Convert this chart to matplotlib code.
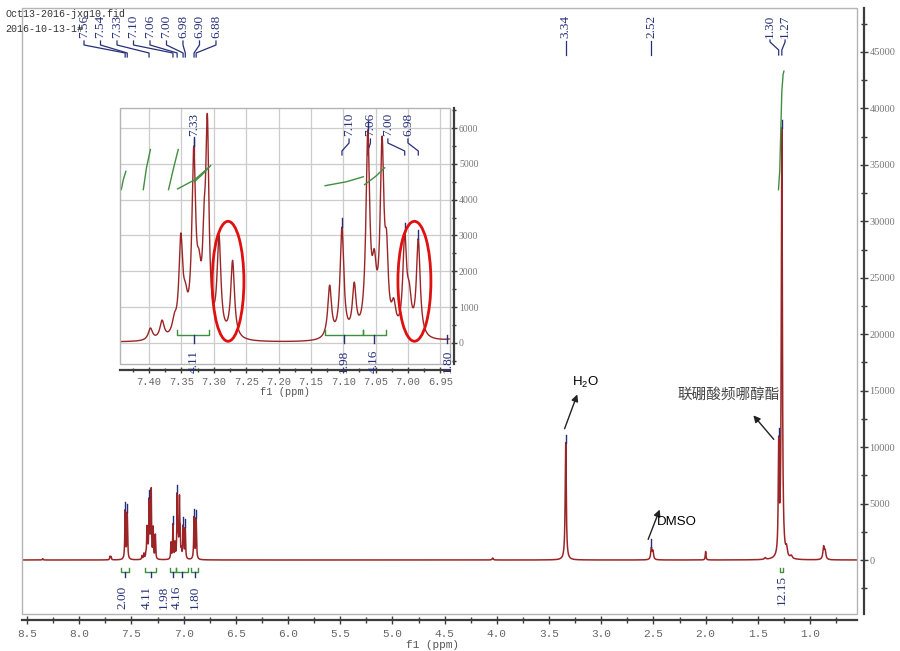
import numpy as np
import matplotlib
matplotlib.use('Agg')
import matplotlib.pyplot as plt
import matplotlib.transforms as mtransforms
from matplotlib.patches import Rectangle, Ellipse
from matplotlib.ticker import MultipleLocator, FormatStrFormatter

# --- peaks (ppm, height, half width at half max) ---
peak_ppm = [8.350, 7.705, 7.695, 7.560, 7.540,
            7.398, 7.380, 7.361, 7.351, 7.344, 7.331, 7.323, 7.315, 7.310,
            7.292, 7.271,
            7.121, 7.102, 7.083, 7.062, 7.052, 7.040, 7.033, 7.022,
            7.005, 6.998, 6.984, 6.900, 6.880,
            4.040, 3.340, 2.520, 2.505, 2.000, 1.430,
            1.300, 1.270, 1.225, 1.180, 0.870, 0.855]
peak_height = [120, 300, 260, 4300, 4100,
               330, 500, 370, 2600, 700, 4900, 1200, 1900, 5500,
               2700, 2150,
               1450, 3050, 1350, 5500, 1500, 5100, 1800, 700,
               2650, 900, 2700, 3700, 3600,
               180, 10400, 1000, 700, 750, 150,
               9500, 38000, 700, 250, 1100, 700]
peak_hwhm = [0.004, 0.004, 0.004, 0.004, 0.004,
             0.004, 0.004, 0.004, 0.0035, 0.004, 0.0035, 0.004, 0.003, 0.003,
             0.0035, 0.0035,
             0.0035, 0.0035, 0.0035, 0.0035, 0.004, 0.0035, 0.003, 0.004,
             0.0035, 0.004, 0.0035, 0.004, 0.004,
             0.006, 0.006, 0.007, 0.007, 0.004, 0.008,
             0.005, 0.006, 0.008, 0.01, 0.008, 0.008]

# --- peak labels at the top of the main plot ---
top_labels = ['7.56', '7.54', '7.33', '7.10', '7.06', '7.00', '6.98', '6.90', '6.88']
top_label_peaks = [7.56, 7.54, 7.331, 7.102, 7.062, 7.005, 6.984, 6.90, 6.88]
solvent_labels = ['3.34', '2.52']
solvent_peaks = [3.34, 2.52]
pair_labels = ['1.30', '1.27']
pair_peaks = [1.30, 1.27]

# --- integrals in the main plot ---
int_regions = [(7.60, 7.52), (7.37, 7.26), (7.13, 7.075), (7.07, 6.96), (6.93, 6.86)]
int_values = ['2.00', '4.11', '1.98', '4.16', '1.80']
int_label_ppm = [7.59, 7.35, 7.19, 7.07, 6.89]
big_int_value = '12.15'
big_int_ppm = 1.27
big_int_curve_ppm = [1.302, 1.290, 1.280, 1.270, 1.258, 1.250]
big_int_curve_val = [32800, 34500, 38000, 41500, 43000, 43300]

# --- inset labels / integrals ---
inset_labels = ['7.33', '7.10', '7.06', '7.00', '6.98']
inset_label_peaks = [7.331, 7.102, 7.062, 7.005, 6.984]
inset_label_pos = [7.331, 7.091, 7.058, 7.031, 7.000]
inset_int_values = ['4.11', '1.98', '4.16', '1.80']
inset_int_ppm = [7.331, 7.099, 7.053, 6.939]
inset_int_bars = [(7.357, 7.307), (7.128, 7.070), (7.070, 7.034)]
inset_int_curves = [([7.443, 7.440, 7.436], [4280, 4550, 4790]),
                    ([7.409, 7.404, 7.398], [4280, 4900, 5400]),
                    ([7.370, 7.362, 7.355], [4280, 4900, 5400]),
                    ([7.356, 7.330, 7.308], [4300, 4550, 4900]),
                    ([7.330, 7.318, 7.305], [4500, 4700, 4950]),
                    ([7.128, 7.095, 7.069], [4390, 4500, 4640]),
                    ([7.067, 7.050, 7.036], [4420, 4650, 4890])]

RED = '#9b2526'
BLUE = '#26307a'
GREEN = '#3f8f3f'
FRAME = '#b4b4b4'
AXIS = '#3c3c3c'


def spectrum(x):
    y = np.zeros_like(x)
    for p, h, w in zip(peak_ppm, peak_height, peak_hwhm):
        y += h / (1 + ((x - p) / w) ** 2)
    return y


def connectors(ax, texts, peaks, positions, y_top, y0, y1, y2, y3, size):
    # rotated label + bracket line down to the peak (x in ppm, y in axes fraction)
    tr = mtransforms.blended_transform_factory(ax.transData, ax.transAxes)
    for t, p, lx in zip(texts, peaks, positions):
        ax.text(lx, y_top, t, rotation=90, ha='center', va='top', color=BLUE,
                fontsize=size, family='Liberation Serif', transform=tr, clip_on=False)
        ax.plot([lx, lx, p, p], [y0, y1, y2, y3], color=BLUE, lw=0.9,
                transform=tr, clip_on=False)


def frame(ax):
    ax.add_patch(Rectangle((0, 0), 1, 1, transform=ax.transAxes, fill=False,
                           ec=FRAME, lw=1.0, clip_on=False, zorder=5))
    for s in ['top', 'left']:
        ax.spines[s].set_visible(False)
    for s in ['right', 'bottom']:
        ax.spines[s].set_color(AXIS)
        ax.spines[s].set_linewidth(1.6)


fig = plt.figure(figsize=(9, 6.51), dpi=100)

# ================= main spectrum =================
ax = fig.add_axes([22 / 900, 1 - 614 / 651, 835 / 900, 606 / 651])
x = np.linspace(8.6, 0.5, 60000)
y = spectrum(x)
ax.plot(x, y, color=RED, lw=1.1)
ax.set_xlim(8.548, 0.55)
ax.set_ylim(-4783, 48894)
frame(ax)
ax.spines['right'].set_position(('outward', 5))
ax.spines['bottom'].set_position(('outward', 4))
ax.yaxis.tick_right()
ax.xaxis.set_minor_locator(MultipleLocator(0.25))
ax.xaxis.set_major_formatter(FormatStrFormatter('%.1f'))
ax.yaxis.set_minor_locator(MultipleLocator(2500))
ax.set_xticks([v for v in np.arange(8.5, 0.9, -0.5)])
ax.set_yticks(np.arange(0, 45001, 5000))
ax.tick_params(axis='both', which='major', direction='inout', length=6, width=1, color=AXIS)
ax.tick_params(axis='both', which='minor', direction='inout', length=4, width=1, color=AXIS)
ax.tick_params(axis='x', labelsize=8, labelcolor='#666666', pad=4)
ax.tick_params(axis='y', labelsize=7.5, labelcolor='#777777', pad=1)
for lb in ax.get_xticklabels():
    lb.set_family('Liberation Mono')
for lb in ax.get_yticklabels():
    lb.set_family('Liberation Serif')
fig.text(433 / 900, 1 - 645 / 651, 'f1 (ppm)', ha='center', va='center',
         fontsize=8, color='#555555', family='Liberation Mono')

fig.text(5 / 900, 1 - 14 / 651, 'Oct13-2016-jxq10.fid', ha='left', va='center',
         fontsize=7.2, color='#333333', family='Liberation Mono')
fig.text(5 / 900, 1 - 29 / 651, '2016-10-13-1#', ha='left', va='center',
         fontsize=7.2, color='#333333', family='Liberation Mono')

# peak markers
for p in top_label_peaks + solvent_peaks + pair_peaks:
    h = spectrum(np.array([p]))[0]
    ax.plot([p, p], [h, h + 700], color=BLUE, lw=1.0)


# top labels (axes fraction: (614 - pixel) / 606)
def fy(pix):
    return (614 - pix) / 606


label_pos = list(np.linspace(7.954, 6.690, len(top_labels)))
connectors(ax, top_labels, top_label_peaks, label_pos, fy(15), fy(41), fy(45), fy(53), fy(57), 9.5)
connectors(ax, solvent_labels, solvent_peaks, solvent_peaks, fy(15), fy(41), fy(45), fy(50), fy(55), 9.5)
connectors(ax, pair_labels, pair_peaks, [1.383, 1.239], fy(15), fy(40), fy(42), fy(50), fy(55), 9.5)

# integrals
for (a, b), v, lx in zip(int_regions, int_values, int_label_ppm):
    ax.plot([a, a, b, b], [-700, -1100, -1100, -700], color=GREEN, lw=1.0)
    m = (a + b) / 2
    ax.plot([m, m], [-1100, -1500], color=BLUE, lw=1.0)
    ax.text(lx, -2300, v, rotation=90, ha='center', va='top', color=BLUE,
            fontsize=9.5, family='Liberation Serif')
ax.plot([1.285, 1.285, 1.255, 1.255], [-700, -1100, -1100, -700], color=GREEN, lw=1.0)
ax.text(big_int_ppm, -1300, big_int_value, rotation=90, ha='center', va='top',
        color=BLUE, fontsize=9.5, family='Liberation Serif')
ax.plot(big_int_curve_ppm, big_int_curve_val, color=GREEN, lw=1.0)

# annotations
arrow = dict(arrowstyle='-|>', color='#222222', lw=1.0, mutation_scale=10)
ax.annotate('', xy=(3.22, 14900), xytext=(3.36, 11400), arrowprops=arrow)
ax.text(3.155, 15700, r'H$_\mathregular{2}$O', ha='center', va='center',
        fontsize=9.5, family='Liberation Sans')
ax.annotate('', xy=(2.43, 4700), xytext=(2.56, 1600), arrowprops=arrow)
ax.text(2.465, 3400, 'DMSO', ha='left', va='center', fontsize=9.5, family='Liberation Sans')
ax.annotate('', xy=(1.56, 13000), xytext=(1.33, 10500), arrowprops=arrow)
ax.text(1.287, 14600, '联硼酸频哪醇酯', ha='right', va='center', fontsize=10.5,
        color='#444444', family=['Noto Sans CJK SC', 'DejaVu Sans'])

# ================= inset =================
ax2 = fig.add_axes([120 / 900, 1 - 364 / 651, 330 / 900, 256 / 651])
ax2.set_facecolor('white')
xi = np.linspace(7.46, 6.92, 12000)
ax2.plot(xi, spectrum(xi), color=RED, lw=1.0, zorder=3)
ax2.set_xlim(7.445, 6.935)
ax2.set_ylim(-590, 6560)
frame(ax2)
ax2.spines['right'].set_position(('outward', 3))
ax2.spines['bottom'].set_position(('outward', 4))
ax2.yaxis.tick_right()
ax2.set_xticks(np.arange(7.40, 6.94, -0.05))
ax2.xaxis.set_minor_locator(MultipleLocator(0.025))
ax2.xaxis.set_major_formatter(FormatStrFormatter('%.2f'))
ax2.set_yticks(np.arange(0, 6001, 1000))
ax2.yaxis.set_minor_locator(MultipleLocator(500))
ax2.grid(True, which='major', color='#cccccc', lw=0.9)
ax2.tick_params(axis='both', which='major', direction='inout', length=5, width=1, color=AXIS)
ax2.tick_params(axis='both', which='minor', direction='inout', length=3, width=1, color=AXIS)
ax2.tick_params(axis='x', labelsize=7.5, labelcolor='#666666', pad=3)
ax2.tick_params(axis='y', labelsize=7, labelcolor='#777777', pad=1)
for lb in ax2.get_xticklabels():
    lb.set_family('Liberation Mono')
for lb in ax2.get_yticklabels():
    lb.set_family('Liberation Serif')
ax2.set_xlabel('f1 (ppm)', fontsize=7.5, color='#555555', family='Liberation Mono', labelpad=0)


def fyi(pix):
    return (364 - pix) / 256


for p in inset_label_peaks:
    h = spectrum(np.array([p]))[0]
    ax2.plot([p, p], [h, h + 250], color=BLUE, lw=1.0, zorder=4)
connectors(ax2, inset_labels, inset_label_peaks, inset_label_pos,
           fyi(113), fyi(139), fyi(143), fyi(151), fyi(155), 9.5)

for px, py in inset_int_curves:
    ax2.plot(px, py, color=GREEN, lw=1.0, zorder=4)
for a, b in inset_int_bars:
    ax2.plot([a, a, b, b], [350, 230, 230, 350], color=GREEN, lw=1.0, zorder=4)
for v, p in zip(inset_int_values, inset_int_ppm):
    ax2.plot([p, p], [230, 0], color=BLUE, lw=1.0, zorder=4)
    ax2.text(p, -190, v, rotation=90, ha='center', va='top', color=BLUE,
             fontsize=9.5, family='Liberation Serif', clip_on=False, zorder=6)

ax2.add_patch(Ellipse((7.278, 1720), 0.049, 3350, fill=False, ec='#e01010', lw=2, zorder=6))
ax2.add_patch(Ellipse((6.990, 1720), 0.051, 3350, fill=False, ec='#e01010', lw=2, zorder=6))

fig.savefig('out.png', dpi=100)
